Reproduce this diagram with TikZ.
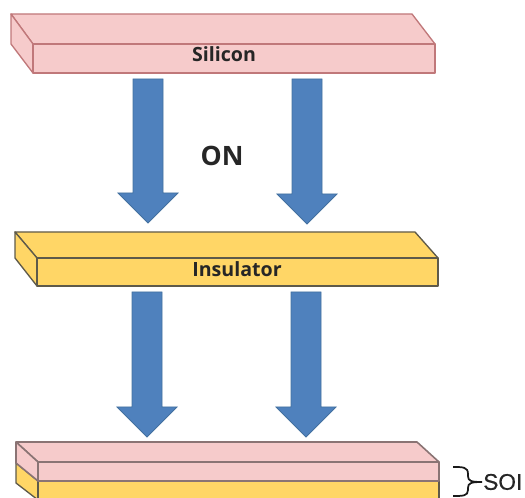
\documentclass[tikz,border=0pt]{standalone}
\usepackage{fontspec}
\setmainfont{Open Sans}
\newfontfamily\soifont[FakeBold=0.6]{Liberation Sans}
\definecolor{siFill}{HTML}{F6CBCB}
\definecolor{siEdge}{HTML}{C0787A}
\definecolor{insFill}{HTML}{FFD666}
\definecolor{insEdge}{HTML}{5E5A4A}
\definecolor{soiEdge}{HTML}{8A7474}
\definecolor{arrFill}{HTML}{4F81BD}
\definecolor{arrEdge}{HTML}{43709F}
\tikzset{
  silayer/.style={fill=siFill,draw=siEdge,line width=1pt,line join=round},
  inslayer/.style={fill=insFill,draw=insEdge,line width=1pt,line join=round},
  soipink/.style={fill=siFill,draw=soiEdge,line width=1.2pt,line join=round},
  soiyellow/.style={fill=insFill,draw=insEdge,line width=1pt,line join=round},
  blockarrow/.style={fill=arrFill,draw=arrEdge,line width=0.6pt,line join=miter},
  lbl/.style={font=\bfseries\fontsize{14.7}{17}\selectfont,text=black!85,inner sep=0pt}
}
% #1 x of arrow centre, #2 top y, #3 y of head base, #4 tip y
\newcommand{\blockarrow}[4]{%
  \draw[blockarrow] (#1-15,#2) -- (#1+15,#2) -- (#1+15,#3) -- (#1+30,#3) -- (#1,#4) -- (#1-30,#3) -- (#1-15,#3) -- cycle;}
\begin{document}
\begin{tikzpicture}[x=0.75pt,y=-0.75pt]
\useasboundingbox (0,0) rectangle (525,498);
\clip (0,0) rectangle (525,498);
% Silicon
\draw[silayer] (11,14) -- (412,14) -- (435,44) -- (33,44) -- cycle;
\draw[silayer] (11,14) -- (33,44) -- (33,73) -- (11,44) -- cycle;
\draw[silayer] (33,44) rectangle (435,73);
\node[lbl] (silicon) at (224,54) {Silicon};
% Insulator
\draw[inslayer] (15,232) -- (415,232) -- (438,258) -- (37,258) -- cycle;
\draw[inslayer] (15,232) -- (37,258) -- (37,286) -- (15,258) -- cycle;
\draw[inslayer] (37,258) rectangle (438,286);
\node[lbl] (insulator) at (237,269) {Insulator};
% Arrows
\blockarrow{148}{79}{193}{223}
\blockarrow{307}{79}{194}{224}
\blockarrow{147}{292}{407}{437}
\blockarrow{306}{292}{407}{437}
\node[font=\bfseries\fontsize{20}{24}\selectfont,text=black!85,inner sep=0pt] (on) at (222,156) {ON};
% SOI stack
\draw[soiyellow] (16,463) -- (38,481) -- (38,500) -- (16,483) -- cycle;
\draw[soiyellow] (38,481) rectangle (439,505);
\draw[soipink] (16,442) -- (417,442) -- (439,462) -- (38,462) -- cycle;
\draw[soipink] (16,442) -- (38,462) -- (38,481) -- (16,463) -- cycle;
\draw[soipink] (38,462) rectangle (439,481);
% Brace
\draw[line width=1.3pt,black!90] (453,467) .. controls (463,467) and (468,467) .. (468,474) -- (468,476) .. controls (468,481) and (471,482) .. (482,482) .. controls (471,482) and (468,483) .. (468,488) -- (468,490) .. controls (468,496) and (463,496) .. (453,496);
\node[font=\soifont\fontsize{17}{20}\selectfont,text=black!85,inner sep=0pt,anchor=west] (soi) at (483,482) {SOI};
\end{tikzpicture}
\end{document}
